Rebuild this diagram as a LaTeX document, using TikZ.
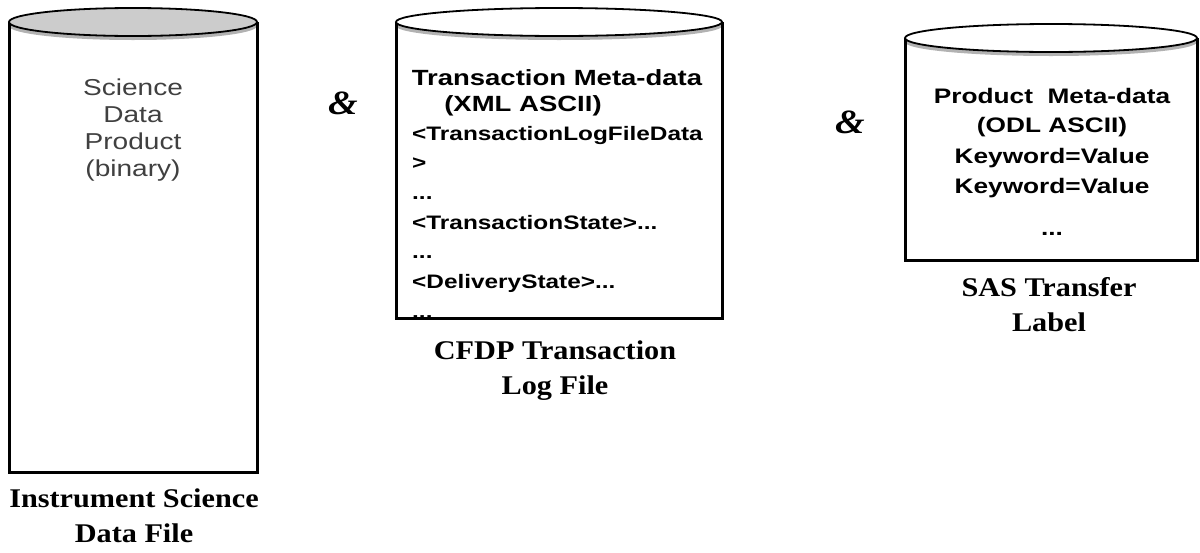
\documentclass[tikz,border=0pt]{standalone}
\usepackage{fontspec}
\setmainfont{Liberation Serif}
\newfontfamily\captionfont[FakeStretch=1.12]{Liberation Serif}
\newfontfamily\greysans[FakeStretch=1.22]{Liberation Sans}
\newfontfamily\metasans[FakeStretch=1.25]{Liberation Sans}
\newcommand\trdots{...}
\tikzset{
    %Define style for the cylinder outlines
    drumbody/.style={
           draw=black,
           line width=3pt},
    drumlid/.style={
           draw=black,
           line width=1.8pt},
    drumshade/.style={
           fill=black!30,
           draw=none},
    %Define style for the texts inside
    plaintext/.style={
           inner sep=0pt,
           text=black!75,
           font=\greysans\fontsize{23}{27}\selectfont},
    metatitle/.style={
           inner sep=0pt,
           font=\metasans\bfseries\fontsize{22}{26}\selectfont},
    metaline/.style={
           inner sep=0pt,
           font=\metasans\bfseries\fontsize{19.5}{29}\selectfont},
    keyline/.style={
           inner sep=0pt,
           font=\metasans\bfseries\fontsize{21}{30}\selectfont},
    %Define style for the captions
    filelabel/.style={
           inner sep=0pt,
           align=center,
           font=\captionfont\bfseries\fontsize{27}{35}\selectfont},
    amp/.style={
           inner sep=0pt,
           font=\captionfont\bfseries\itshape\fontsize{34}{34}\selectfont}
}
\begin{document}
\begin{tikzpicture}[x=1pt,y=-1pt]
\useasboundingbox (0,0) rectangle (1200,552);
 %texts
\foreach \txt [count=\i from 0] in {Science, Data, Product, (binary)}
  \node[plaintext, anchor=base] (sci\i) at (133,95+27*\i) {\txt};
\node[metatitle, anchor=base] (tmeta) at (557,85) {Transaction Meta-data};
\node[metatitle, anchor=base] (xmlascii) at (523,111) {(XML ASCII)};
\foreach \txt [count=\i from 0] in {<TransactionLogFileData, >, \trdots, <TransactionState>\trdots, \trdots, <DeliveryState>\trdots, \trdots}
  \node[metaline, anchor=base west] (xml\i) at (412,140+29.7*\i) {\txt};
\foreach \txt/\yb [count=\i] in {Product\ \ Meta-data/103, (ODL ASCII)/132, Keyword=Value/163, Keyword=Value/193, \trdots/235}
  \node[keyline, anchor=base] (odl\i) at (1052,\yb) {\txt};
 %cylinders
\foreach \nm/\l/\r/\t/\b/\lid in {instr/9/257/22/472/black!20, cfdp/396/722/22/318/white, sas/905/1197/38/260/white}{
  \coordinate (\nm top) at ({(\l+\r)/2},\t);
  \fill[drumshade] ([yshift=-4pt]\nm top) ellipse [x radius={(\r-\l)/2*1pt}, y radius=14pt];
  \draw[drumbody] (\l,\t) -- (\l,\b) -- (\r,\b) -- (\r,\t);
  \draw[drumlid, fill=\lid] (\nm top) ellipse [x radius={(\r-\l)/2*1pt}, y radius=14pt];
}
 %captions
\node[filelabel, anchor=north] (instrlabel) at (134,489) {Instrument Science\\Data File};
\node[filelabel, anchor=north] (cfdplabel) at (555,341) {CFDP Transaction\\Log File};
\node[filelabel, anchor=north] (saslabel) at (1049,277) {SAS Transfer\\Label};
\node[amp] (and1) at (343,103) {\&};
\node[amp] (and2) at (850,122) {\&};
\end{tikzpicture}
\end{document}
